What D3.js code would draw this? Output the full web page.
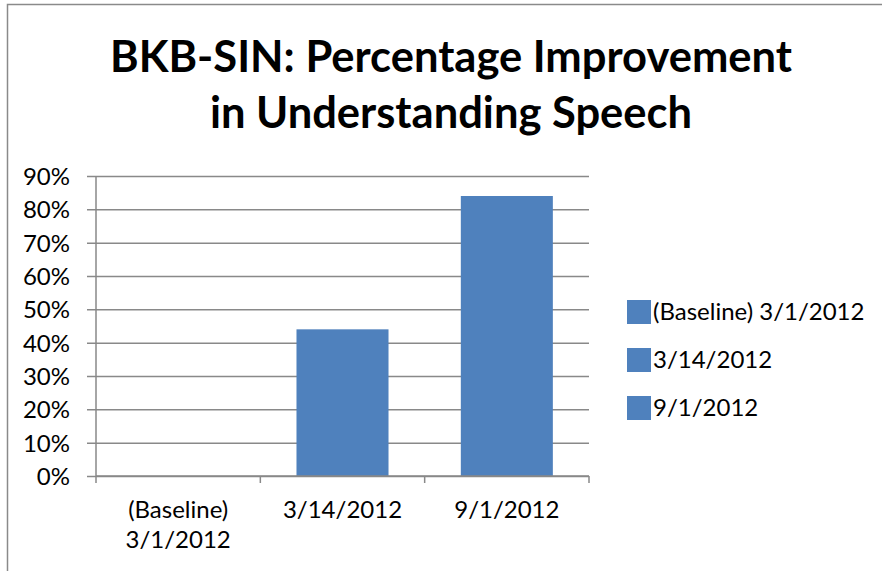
<!DOCTYPE html>
<html><head>
<meta charset="utf-8">
<script src="https://d3js.org/d3.v7.min.js"></script>
<style>
  body { margin: 0; background: #fff; }
  svg text { font-family: Lato, "Open Sans", sans-serif; fill: #000; }
  .title { font-weight: 700; font-size: 43.5px; }
  .tick-label { font-size: 24px; }
</style>
</head>
<body>
<svg id="chart" width="882" height="571"></svg>
<script>

  // Data
  const categories = ["(Baseline) 3/1/2012", "3/14/2012", "9/1/2012"];
  const categoryLines = [["(Baseline)", "3/1/2012"], ["3/14/2012"], ["9/1/2012"]];
  const improvement = [0, 0.44, 0.84];
  const yTicks = [0, 0.1, 0.2, 0.3, 0.4, 0.5, 0.6, 0.7, 0.8, 0.9];
  const titleLines = ["BKB-SIN: Percentage Improvement", "in Understanding Speech"];

  const svg = d3.select("#chart");
  const barColor = "#4f81bd";
  const gridColor = "#898989";

  // outer frame (only top + left visible in the crop)
  svg.append("path")
     .attr("d", "M7.5,571 L7.5,4.5 L882,4.5")
     .attr("fill", "none").attr("stroke", "#8a8a8a").attr("stroke-width", 1.5);

  // plot area
  const plot = { left: 96, right: 589, top: 176, bottom: 476 };

  const x = d3.scaleBand().domain(categories)
              .range([plot.left, plot.right])
              .paddingInner(0.44).paddingOuter(0.22);
  const y = d3.scaleLinear().domain([0, 0.9]).range([plot.bottom, plot.top]);

  // title
  svg.append("text").attr("class", "title")
     .attr("text-anchor", "middle")
     .selectAll("tspan").data(titleLines).join("tspan")
     .attr("x", 451)
     .attr("y", (d, i) => 72 + i * 56)
     .text(d => d);

  // gridlines + y ticks
  const yAxis = svg.append("g").attr("transform", "translate(" + plot.left + ",0)")
     .call(d3.axisLeft(y).tickValues(yTicks).tickFormat(d3.format(".0%"))
             .tickSize(-(plot.right - plot.left)).tickSizeOuter(0).tickPadding(26));
  yAxis.select(".domain").remove();
  yAxis.selectAll(".tick line").attr("stroke", gridColor).attr("stroke-width", 1.5).attr("x1", -9);
  yAxis.selectAll(".tick text").attr("class", "tick-label").attr("dy", "0.36em");
  yAxis.attr("font-family", null).attr("font-size", null);

  // vertical axis line
  svg.append("line")
     .attr("x1", plot.left).attr("x2", plot.left)
     .attr("y1", plot.top).attr("y2", plot.bottom)
     .attr("stroke", gridColor).attr("stroke-width", 1.5);

  // bars
  svg.append("g").selectAll("rect").data(improvement).join("rect")
     .attr("x", (d, i) => x(categories[i]))
     .attr("width", x.bandwidth())
     .attr("y", d => y(d))
     .attr("height", d => y(0) - y(d))
     .attr("fill", barColor);

  // x axis line with category ticks
  const step = x.step();
  const boundaries = d3.range(categories.length + 1).map(i => plot.left + i * step);
  svg.append("line")
     .attr("x1", plot.left).attr("x2", plot.right)
     .attr("y1", plot.bottom).attr("y2", plot.bottom)
     .attr("stroke", gridColor).attr("stroke-width", 1.5);
  svg.append("g").selectAll("line").data(boundaries).join("line")
     .attr("x1", d => d).attr("x2", d => d)
     .attr("y1", plot.bottom).attr("y2", plot.bottom + 7)
     .attr("stroke", gridColor).attr("stroke-width", 1.5);

  // category labels
  svg.append("g").selectAll("text").data(categories).join("text")
     .attr("class", "tick-label")
     .attr("text-anchor", "middle")
     .each(function(d, i) {
       d3.select(this).selectAll("tspan").data(categoryLines[i]).join("tspan")
         .attr("x", x(d) + x.bandwidth() / 2)
         .attr("y", (t, j) => 518 + j * 30)
         .text(t => t);
     });

  // legend
  const legend = svg.append("g").selectAll("g").data(categories).join("g")
     .attr("transform", (d, i) => "translate(627," + (300 + i * 48) + ")");
  legend.append("rect").attr("width", 24).attr("height", 24).attr("fill", barColor);
  legend.append("text").attr("class", "tick-label")
        .attr("x", 26).attr("y", 20).text(d => d);

</script>
</body>
</html>
